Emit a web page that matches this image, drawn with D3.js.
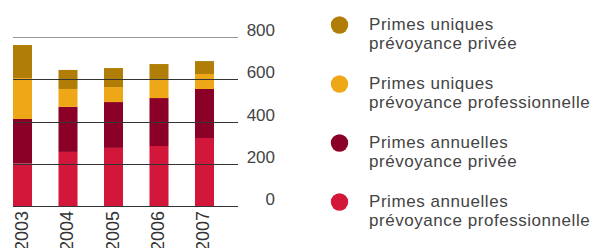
<!DOCTYPE html>
<meta charset="utf-8">
<style>
  body { margin: 0; background: #fff; }
  text { font-family: "Liberation Sans", Arial, sans-serif; fill: #444; }
  .grid line { stroke: #333; stroke-width: 1.2px; }
</style>
<svg width="595" height="248"></svg>
<script src="https://d3js.org/d3.v7.min.js"></script>
<script>
  var years = ["2003", "2004", "2005", "2006", "2007"];

  // stacked from bottom to top
  var annuellesPro = [202, 256, 275, 284, 322];
  var annuellesPrivee = [210, 213, 217, 227, 232];
  var uniquesPro = [194, 85, 71, 85, 71];
  var uniquesPrivee = [156, 90, 90, 76, 61];

  var yTicks = [0, 200, 400, 600, 800];

  var seriesNames = [
    ["Primes annuelles", "prévoyance professionnelle"],
    ["Primes annuelles", "prévoyance privée"],
    ["Primes uniques", "prévoyance professionnelle"],
    ["Primes uniques", "prévoyance privée"]
  ];
  var colors = ["#d3173b", "#8a0027", "#eea817", "#b07e06"];

  var svg = d3.select("svg");

  var rows = years.map(function(y, i) {
    return { year: y, a: annuellesPro[i], b: annuellesPrivee[i], c: uniquesPro[i], d: uniquesPrivee[i] };
  });
  var keys = ["a", "b", "c", "d"];
  var stacked = d3.stack().keys(keys)(rows);

  var x = d3.scaleBand()
    .domain(years)
    .range([13, 214])
    .paddingInner(0.582)
    .paddingOuter(0);

  var y = d3.scaleLinear()
    .domain([0, 800])
    .range([206, 37]);

  // bars
  svg.append("g")
    .selectAll("g")
    .data(stacked)
    .enter().append("g")
    .attr("fill", function(d, i) { return colors[i]; })
    .selectAll("rect")
    .data(function(d) { return d; })
    .enter().append("rect")
    .attr("x", function(d) { return x(d.data.year); })
    .attr("width", x.bandwidth())
    .attr("y", function(d) { return y(d[1]); })
    .attr("height", function(d) { return y(d[0]) - y(d[1]); });

  // grid lines drawn over the bars
  var grid = svg.append("g").attr("class", "grid");
  grid.selectAll("line")
    .data(yTicks)
    .enter().append("line")
    .attr("x1", 13)
    .attr("x2", 238)
    .attr("y1", function(d) { return Math.round(y(d)) + 0.5; })
    .attr("y2", function(d) { return Math.round(y(d)) + 0.5; })
    .style("stroke", function(d) { return d === 800 ? "#999" : null; });

  // y labels on the right
  svg.append("g")
    .selectAll("text")
    .data(yTicks)
    .enter().append("text")
    .attr("x", 275)
    .attr("y", function(d) { return y(d) - 1; })
    .attr("text-anchor", "end")
    .style("font-size", "17px")
    .text(function(d) { return d; });

  // year labels, rotated
  svg.append("g")
    .selectAll("text")
    .data(years)
    .enter().append("text")
    .attr("transform", function(d) {
      return "translate(" + (x(d) + x.bandwidth() / 2 + 5) + ",211) rotate(-90)";
    })
    .attr("text-anchor", "end")
    .style("font-size", "18px")
    .style("fill", "#333")
    .text(function(d) { return d; });

  // legend, top to bottom
  var legend = svg.append("g")
    .selectAll("g")
    .data([3, 2, 1, 0])
    .enter().append("g")
    .attr("transform", function(d, i) { return "translate(0," + (i * 59) + ")"; });

  legend.append("circle")
    .attr("cx", 339.5)
    .attr("cy", 25)
    .attr("r", 8.7)
    .attr("fill", function(d) { return colors[d]; });

  legend.append("text")
    .attr("x", 369)
    .attr("y", 29.5)
    .style("font-size", "17px")
    .style("letter-spacing", "0.55px")
    .selectAll("tspan")
    .data(function(d) { return seriesNames[d]; })
    .enter().append("tspan")
    .attr("x", 369)
    .attr("dy", function(d, i) { return i === 0 ? 0 : 19.5; })
    .text(function(d) { return d; });
</script>
